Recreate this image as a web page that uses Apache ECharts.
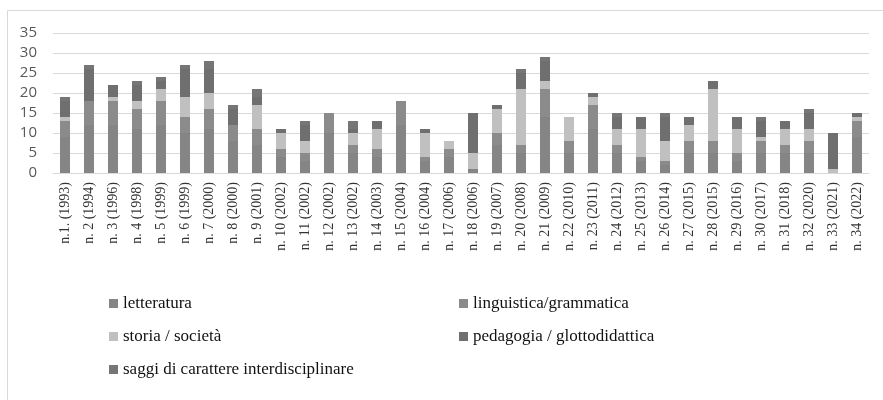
<!DOCTYPE html>
<html>
<head>
    <meta charset="UTF-8">
    <title>Saggi per numero</title>
    <script src="https://cdn.jsdelivr.net/npm/echarts@6/dist/echarts.min.js"></script>
    <style>
        html, body { margin: 0; padding: 0; background: #fff; }
        #chart { width: 883px; height: 400px; }
    </style>
</head>
<body>
    <div id="chart"></div>
    <script>
        // numeri della rivista
        const numeri = ['n.1. (1993)', 'n. 2 (1994)', 'n. 3 (1996)', 'n. 4 (1998)', 'n. 5 (1999)', 'n. 6 (1999)',
            'n. 7 (2000)', 'n. 8 (2000)', 'n. 9 (2001)', 'n. 10 (2002)', 'n. 11 (2002)', 'n. 12 (2002)',
            'n. 13 (2002)', 'n. 14 (2003)', 'n. 15 (2004)', 'n. 16 (2004)', 'n. 17 (2006)', 'n. 18 (2006)',
            'n. 19 (2007)', 'n. 20 (2008)', 'n. 21 (2009)', 'n. 22 (2010)', 'n. 23 (2011)', 'n. 24 (2012)',
            'n. 25 (2013)', 'n. 26 (2014)', 'n. 27 (2015)', 'n. 28 (2015)', 'n. 29 (2016)', 'n. 30 (2017)',
            'n. 31 (2018)', 'n. 32 (2020)', 'n. 33 (2021)', 'n. 34 (2022)'];

        const letteratura  = [9, 12, 12, 11, 12, 10, 11, 8, 7, 4, 3, 10, 5, 4, 12, 3, 4, 1, 7, 5, 14, 5, 11, 5, 3, 2, 5, 5, 3, 5, 5, 5, 0, 9];
        const linguistica  = [4, 6, 6, 5, 6, 4, 5, 4, 4, 2, 2, 5, 2, 2, 6, 1, 2, 0, 3, 2, 7, 3, 6, 2, 1, 1, 3, 3, 2, 3, 2, 3, 0, 4];
        const storia       = [1, 0, 1, 2, 3, 5, 4, 0, 6, 4, 3, 0, 3, 5, 0, 6, 2, 4, 6, 14, 2, 6, 2, 4, 7, 5, 4, 13, 6, 1, 4, 3, 1, 1];
        const pedagogia    = [4, 8, 3, 4, 2, 7, 6, 4, 2, 1, 4, 0, 1, 2, 0, 1, 0, 10, 1, 4, 5, 0, 1, 3, 3, 6, 2, 2, 3, 4, 2, 4, 9, 1];
        const saggiInterd  = [1, 1, 0, 1, 1, 1, 2, 1, 2, 0, 1, 0, 2, 0, 0, 0, 0, 0, 0, 1, 1, 0, 0, 1, 0, 1, 0, 0, 0, 1, 0, 1, 0, 0];

        const nomi = ['letteratura', 'linguistica/grammatica', 'storia / società',
            'pedagogia / glottodidattica', 'saggi di carattere interdisciplinare'];
        const colori = ['#858585', '#8b8b8b', '#c0c0c0', '#6f6f6f', '#767676'];
        const valori = [letteratura, linguistica, storia, pedagogia, saggiInterd];

        const chart = echarts.init(document.getElementById('chart'));

        const legendaStile = {
            orient: 'vertical',
            icon: 'rect',
            itemWidth: 9,
            itemHeight: 9,
            itemGap: 16,
            textStyle: { fontFamily: 'Liberation Serif', fontSize: 17, color: '#111' }
        };

        chart.setOption({
            animation: false,
            graphic: [{
                type: 'rect',
                shape: { x: 7.5, y: 10.5, width: 900, height: 420 },
                style: { fill: 'none', stroke: '#d9d9d9', lineWidth: 1 },
                silent: true
            }],
            grid: { left: 53, right: 14, top: 33, bottom: 227 },
            legend: [
                Object.assign({ left: 104, top: 290, data: [nomi[0], nomi[2], nomi[4]] }, legendaStile),
                Object.assign({ left: 454, top: 290, data: [nomi[1], nomi[3]] }, legendaStile)
            ],
            xAxis: {
                type: 'category',
                data: numeri,
                axisLine: { lineStyle: { color: '#d9d9d9', width: 1 } },
                axisTick: { show: false },
                axisLabel: {
                    interval: 0,
                    rotate: 90,
                    margin: 9,
                    fontFamily: 'Liberation Serif',
                    fontSize: 14,
                    color: '#333'
                }
            },
            yAxis: {
                type: 'value',
                min: 0,
                max: 35,
                interval: 5,
                axisLine: { show: false },
                axisTick: { show: false },
                splitLine: { lineStyle: { color: '#d9d9d9', width: 1 } },
                axisLabel: { fontFamily: 'Open Sans', fontSize: 15, color: '#595959', margin: 16 }
            },
            series: nomi.map((n, i) => ({
                name: n,
                type: 'bar',
                stack: 'totale',
                barWidth: 10,
                itemStyle: { color: colori[i] },
                data: valori[i]
            }))
        });
    </script>
</body>
</html>
